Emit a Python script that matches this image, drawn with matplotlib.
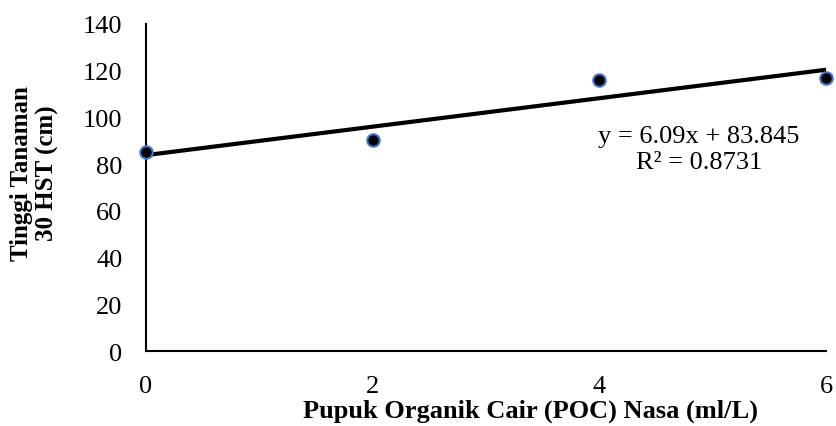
import matplotlib
matplotlib.use("Agg")
import matplotlib.pyplot as plt
import numpy as np

# Data
poc_dose = [0, 2, 4, 6]
tinggi = [85.0, 90.4, 116.0, 117.06]
x_ticks = [0, 2, 4, 6]
y_ticks = [0, 20, 40, 60, 80, 100, 120, 140]

plt.rcParams["font.family"] = ["Liberation Serif", "DejaVu Serif"]

fig = plt.figure(figsize=(8.36, 4.27), dpi=100)
ax = fig.add_axes([0.1746, 0.1756, 0.8134, 0.766])

# linear trendline
slope, intercept = np.polyfit(poc_dose, tinggi, 1)
xs = np.array([poc_dose[0], poc_dose[-1]])
ax.plot(xs, slope * xs + intercept, color="black", linewidth=3, zorder=2)

ax.scatter(poc_dose, tinggi, s=80, color="black", edgecolor="#4472C4",
           linewidth=1.5, zorder=3, clip_on=False)

ax.text(4.88, 86.5, "y = 6.09x + 83.845\nR² = 0.8731", ha="center", va="center",
        fontsize=19, linespacing=1.2)

ax.set_xlim(0, 6)
ax.set_ylim(0, 140)
ax.set_xticks(x_ticks)
ax.set_yticks(y_ticks)
ax.tick_params(length=0, labelsize=19)
ax.tick_params(axis="x", pad=17)
ax.tick_params(axis="y", pad=17)

for side in ["top", "right"]:
    ax.spines[side].set_visible(False)
for side in ["left", "bottom"]:
    ax.spines[side].set_linewidth(1.5)

ax.set_xlabel("Pupuk Organik Cair (POC) Nasa (ml/L)", fontsize=19,
              fontweight="bold")
ax.xaxis.set_label_coords(0.565, -0.145)
ax.set_ylabel("Tinggi Tanaman\n30 HST (cm)", fontsize=18, fontweight="bold",
              linespacing=1.15)
ax.yaxis.set_label_coords(-0.128, 0.547)

fig.savefig("out.png", dpi=100)
